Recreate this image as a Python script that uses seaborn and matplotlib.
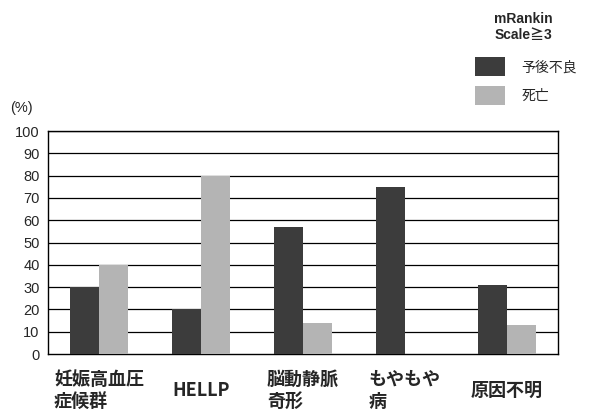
import matplotlib
matplotlib.use("Agg")
import matplotlib.pyplot as plt
import seaborn as sns
import pandas as pd

categories = ["妊娠高血圧\n症候群", "HELLP", "脳動静脈\n奇形", "もやもや\n病", "原因不明"]
poor = [30, 20, 57, 75, 31]     # 予後不良
death = [40, 80, 14, 0, 13]     # 死亡
series = ["予後不良", "死亡"]
yticks = list(range(0, 101, 10))

df = pd.DataFrame({
    "cat": categories * 2,
    "val": poor + death,
    "grp": [series[0]] * len(categories) + [series[1]] * len(categories),
})

sns.set_style("white")
plt.rcParams["font.family"] = ["Noto Sans CJK JP", "DejaVu Sans"]

fig = plt.figure(figsize=(5.89, 4.16), dpi=100)
ax = fig.add_axes([0.0815, 0.149, 0.8655, 0.536])

sns.barplot(data=df, x="cat", y="val", hue="grp", order=categories,
            hue_order=series, palette=["#3c3c3c", "#b4b4b4"],
            width=0.57, gap=0, saturation=1, linewidth=0, edgecolor="none",
            ax=ax, zorder=3)

ax.set_ylim(0, 100)
ax.set_xlim(-0.5, len(categories) - 0.5)
ax.set_yticks(yticks)
ax.set_yticklabels([str(t) for t in yticks], fontsize=10.5,
                   family=["Liberation Sans", "DejaVu Sans"])
for t in yticks[1:]:
    ax.axhline(t, color="black", lw=0.9, zorder=1)
for s in ax.spines.values():
    s.set_color("black")
    s.set_linewidth(1.0)
    s.set_visible(True)

ax.set_xlabel("")
ax.set_ylabel("")
ax.tick_params(axis="y", length=0, pad=6)
ax.set_xticks(range(len(categories)))
ax.set_xticklabels(categories, fontsize=13, fontweight="bold")
ax.tick_params(axis="x", length=0, pad=26)
for lab in ax.get_xticklabels():
    lab.set_verticalalignment("center")
    lab.set_multialignment("left")
# small boundary ticks at the bottom
ax.set_xticks([i + 0.5 for i in range(len(categories) - 1)], minor=True)
ax.tick_params(axis="x", which="minor", direction="in", length=4, width=0.8, color="black")

fig.text(10 / 589, 1 - 108 / 416, "(%)", fontsize=10.5, va="center",
         family=["Liberation Sans", "DejaVu Sans"])

ax.legend_.remove()
handles, labels = ax.get_legend_handles_labels()
fig.legend(handles, labels, loc="upper left", bbox_to_anchor=(0.806, 0.862),
           bbox_transform=fig.transFigure, frameon=False, fontsize=10,
           handlelength=2.15, handleheight=1.7, labelspacing=0.7,
           handletextpad=1.2, borderpad=0, borderaxespad=0)
fig.text(523 / 589, 1 - 27 / 416, "mRankin\nScale≧3", fontsize=10,
         fontweight="bold", ha="center", va="center", linespacing=1.25,
         family=["Liberation Sans", "Noto Sans CJK JP"])

fig.savefig("out.png", dpi=100)
